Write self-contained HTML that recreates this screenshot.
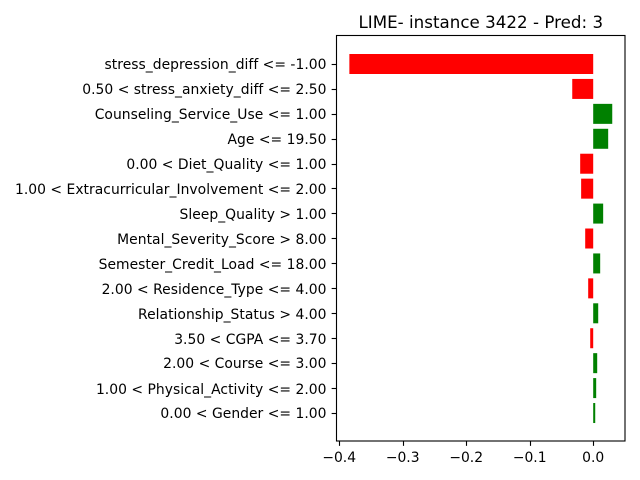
<!DOCTYPE html>
<html lang="en">
<head>
<meta charset="utf-8">
<title>LIME explanation chart</title>
<style>
html,body{margin:0;padding:0;background:#fff;}
svg{display:block;}
text{font-family:"DejaVu Sans",sans-serif;fill:#000;}
</style>
</head>
<body>
<svg id="chart" xmlns="http://www.w3.org/2000/svg" width="640" height="480" viewBox="0 0 640 480">
  <rect x="0" y="0" width="640" height="480" fill="#fff"/>
  <text x="480.8" y="28" font-size="16.67" text-anchor="middle" letter-spacing="0.03">LIME- instance 3422 - Pred: 3</text>
  <g id="bars"></g>
  <g id="y-axis"></g>
  <g id="x-axis"></g>
  <rect x="336.5" y="35.5" width="288.5" height="405.5" fill="none" stroke="#000" stroke-width="1.11"/>
</svg>
<script>
const categories = [
  "stress_depression_diff <= -1.00",
  "0.50 < stress_anxiety_diff <= 2.50",
  "Counseling_Service_Use <= 1.00",
  "Age <= 19.50",
  "0.00 < Diet_Quality <= 1.00",
  "1.00 < Extracurricular_Involvement <= 2.00",
  "Sleep_Quality > 1.00",
  "Mental_Severity_Score > 8.00",
  "Semester_Credit_Load <= 18.00",
  "2.00 < Residence_Type <= 4.00",
  "Relationship_Status > 4.00",
  "3.50 < CGPA <= 3.70",
  "2.00 < Course <= 3.00",
  "1.00 < Physical_Activity <= 2.00",
  "0.00 < Gender <= 1.00"
];
const weights = [-0.384, -0.033, 0.030, 0.0236, -0.0205, -0.019, 0.0157, -0.0126, 0.011, -0.0079, 0.0079, -0.0047, 0.0063, 0.0047, 0.0032];
const xTicks = [-0.4, -0.3, -0.2, -0.1, 0.0];
const xTickLabels = ["\u22120.4", "\u22120.3", "\u22120.2", "\u22120.1", "0.0"];

const NS = "http://www.w3.org/2000/svg";
const xScale = v => 593.2 + v * 635;
const yScale = i => 64 + i * 24.93;
const barHeight = 20;
const tickLen = 4.86;

/* Text baselines snap to whole pixels; labels with descenders sit slightly lower. */
const labelBaseline = (label, i) => Math.round(yScale(i) + (/[gjpqy_]/.test(label) ? 5.45 : 5.3));

function make(tag, parent, attrs, text) {
  const node = document.createElementNS(NS, tag);
  for (const k in attrs) node.setAttribute(k, attrs[k]);
  if (text !== undefined) node.textContent = text;
  parent.appendChild(node);
  return node;
}

const barsGroup = document.getElementById("bars");
const yGroup = document.getElementById("y-axis");
const xGroup = document.getElementById("x-axis");

weights.forEach((v, i) => {
  const x0 = xScale(0);
  const x1 = xScale(v);
  const bar = make("rect", barsGroup, {
    x: Math.min(x0, x1),
    y: yScale(i) - barHeight / 2,
    width: Math.abs(x1 - x0),
    height: barHeight,
    fill: v < 0 ? "#ff0000" : "#008000"
  });
  
  
});

categories.forEach((label, i) => {
  const tickY = Math.round(yScale(i) - 0.2) + 0.5;
  const tick = make("line", yGroup, {
    x1: 336.5 - tickLen, x2: 336.5, y1: tickY, y2: tickY,
    stroke: "#000", "stroke-width": 1.11
  });
  
  
  const text = make("text", yGroup, {
    x: 326.5, y: labelBaseline(label, i), "font-size": 13.89, "text-anchor": "end", "letter-spacing": 0.03
  }, label);
  
  
});

xTicks.forEach((v, i) => {
  const x = xScale(v);
  const tickX = Math.round(x) + 0.5;
  const tick = make("line", xGroup, {
    x1: tickX, x2: tickX, y1: 441, y2: 441 + tickLen,
    stroke: "#000", "stroke-width": 1.11
  });
  
  
  const text = make("text", xGroup, {
    x: x, y: 462, "font-size": 13.89, "text-anchor": "middle"
  }, xTickLabels[i]);
  
  
});
</script>
</body>
</html>
